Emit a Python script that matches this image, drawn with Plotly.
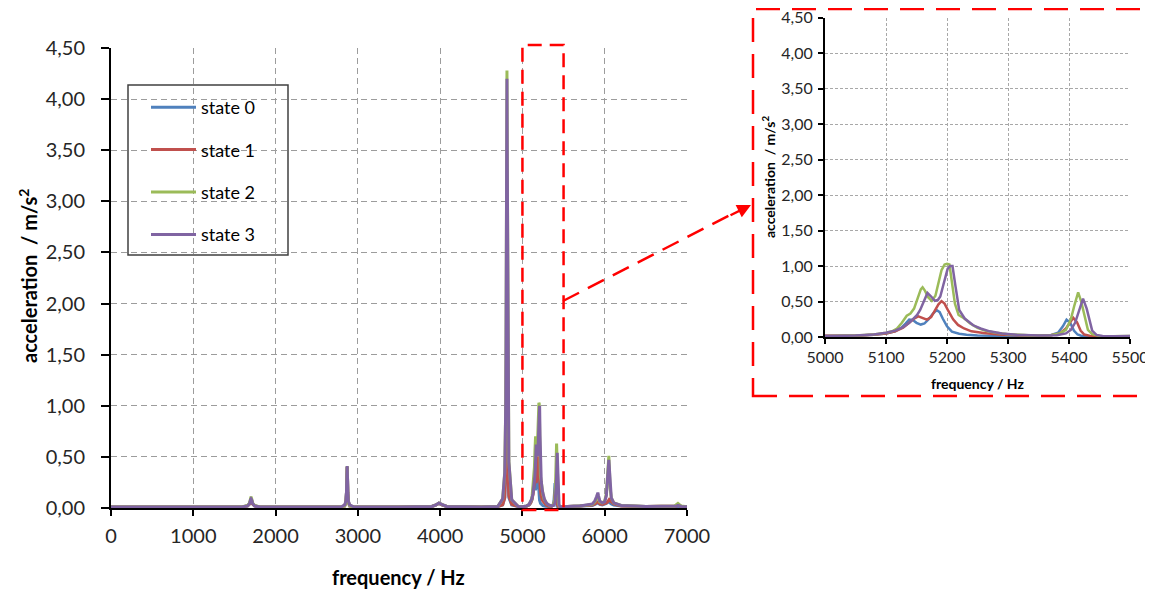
import plotly.graph_objects as go

# ---------------- data ----------------
state_names = ["state 0", "state 1", "state 2", "state 3"]
state_colors = ["#4F81BD", "#C0504D", "#9BBB59", "#8064A2"]

# region below 5000 Hz (shared frequency grid)
freq_a = [0, 1000, 1600, 1660, 1685, 1695, 1702, 1710, 1720, 1745, 1800, 2500, 2800,
          2840, 2855, 2862, 2866, 2870, 2874, 2878, 2885, 2900, 2950, 3500, 3900, 3950,
          3985, 4020, 4080, 4500, 4700, 4760, 4785, 4798, 4804, 4808, 4810, 4812, 4816,
          4822, 4835, 4870, 4950]
s0_a = [0.01, 0.01, 0.012, 0.02, 0.04, 0.07, 0.08, 0.07, 0.04, 0.02, 0.012, 0.01, 0.012,
        0.02, 0.06, 0.15, 0.3, 0.40, 0.3, 0.15, 0.06, 0.02, 0.012, 0.01, 0.015, 0.03,
        0.045, 0.03, 0.015, 0.01, 0.015, 0.03, 0.1, 0.4, 1.0, 1.7, 1.9, 1.6, 0.9,
        0.35, 0.1, 0.03, 0.015]
s1_a = [0.01, 0.01, 0.012, 0.02, 0.04, 0.07, 0.085, 0.07, 0.04, 0.02, 0.012, 0.01, 0.012,
        0.02, 0.06, 0.15, 0.3, 0.40, 0.3, 0.15, 0.06, 0.02, 0.012, 0.01, 0.015, 0.03,
        0.045, 0.03, 0.015, 0.01, 0.015, 0.03, 0.1, 0.45, 1.1, 1.8, 2.07, 1.8, 1.0,
        0.4, 0.12, 0.035, 0.015]
s2_a = [0.01, 0.01, 0.012, 0.025, 0.05, 0.09, 0.11, 0.09, 0.05, 0.025, 0.012, 0.01, 0.012,
        0.02, 0.06, 0.15, 0.3, 0.41, 0.3, 0.15, 0.06, 0.02, 0.012, 0.01, 0.015, 0.03,
        0.05, 0.035, 0.015, 0.01, 0.015, 0.09, 0.35, 1.06, 2.15, 3.42, 4.02, 4.28, 3.42,
        1.67, 0.46, 0.08, 0.015]
s3_a = [0.01, 0.01, 0.012, 0.02, 0.045, 0.08, 0.09, 0.08, 0.045, 0.02, 0.012, 0.01, 0.012,
        0.03, 0.07, 0.16, 0.3, 0.41, 0.3, 0.16, 0.07, 0.03, 0.012, 0.01, 0.015, 0.03,
        0.05, 0.035, 0.015, 0.01, 0.015, 0.09, 0.34, 1.04, 2.1, 3.36, 3.95, 4.2, 3.36,
        1.64, 0.45, 0.08, 0.015]

# region 5000-5500 Hz (zoomed in the inset)
s0_fb = [5000, 5050, 5080, 5100, 5115, 5125, 5132, 5138, 5144, 5150, 5157, 5163, 5170,
         5177, 5183, 5188, 5193, 5200, 5208, 5220, 5232, 5250, 5280, 5320, 5350, 5370,
         5382, 5390, 5396, 5402, 5408, 5414, 5420, 5430, 5460, 5500]
s0_b = [0.012, 0.018, 0.03, 0.05, 0.08, 0.13, 0.19, 0.245, 0.24, 0.2, 0.175, 0.19, 0.25,
        0.33, 0.38, 0.35, 0.26, 0.15, 0.075, 0.045, 0.032, 0.022, 0.016, 0.012, 0.014, 0.025,
        0.06, 0.15, 0.245, 0.2, 0.09, 0.035, 0.018, 0.012, 0.01, 0.01]
s1_fb = [5000, 5050, 5080, 5100, 5115, 5128, 5138, 5146, 5153, 5160, 5167, 5174, 5180,
         5186, 5191, 5196, 5202, 5210, 5218, 5228, 5240, 5260, 5290, 5320, 5350, 5370,
         5385, 5395, 5401, 5407, 5413, 5419, 5425, 5435, 5460, 5500]
s1_b = [0.012, 0.018, 0.03, 0.05, 0.08, 0.13, 0.2, 0.26, 0.29, 0.27, 0.245, 0.28, 0.37,
        0.46, 0.505, 0.47, 0.37, 0.25, 0.17, 0.12, 0.08, 0.055, 0.03, 0.018, 0.016, 0.025,
        0.05, 0.12, 0.2, 0.27, 0.21, 0.09, 0.035, 0.015, 0.01, 0.01]
s2_fb = [5000, 5050, 5080, 5100, 5110, 5118, 5126, 5134, 5140, 5146, 5152, 5157, 5160,
         5164, 5169, 5175, 5181, 5186, 5191, 5196, 5200, 5204, 5208, 5213, 5219, 5227,
         5238, 5250, 5262, 5280, 5300, 5340, 5370, 5385, 5395, 5403, 5409, 5415, 5420,
         5425, 5431, 5438, 5450, 5470, 5500]
s2_b = [0.012, 0.02, 0.035, 0.06, 0.08, 0.12, 0.2, 0.3, 0.33, 0.4, 0.56, 0.67, 0.70,
        0.65, 0.56, 0.51, 0.58, 0.76, 0.94, 1.02, 1.03, 1.02, 0.8, 0.47, 0.31, 0.27,
        0.19, 0.13, 0.09, 0.06, 0.04, 0.02, 0.025, 0.05, 0.1, 0.25, 0.45, 0.63, 0.5,
        0.3, 0.1, 0.04, 0.015, 0.01, 0.01]
s3_fb = [5000, 5050, 5080, 5100, 5115, 5128, 5138, 5145, 5151, 5156, 5162, 5168, 5174,
         5180, 5185, 5189, 5193, 5197, 5201, 5205, 5209, 5214, 5220, 5229, 5243, 5255,
         5270, 5290, 5314, 5350, 5380, 5395, 5403, 5410, 5416, 5423, 5429, 5433, 5438,
         5445, 5455, 5475, 5500]
s3_b = [0.012, 0.02, 0.035, 0.06, 0.09, 0.14, 0.2, 0.26, 0.31, 0.38, 0.5, 0.62, 0.57,
        0.51, 0.52, 0.57, 0.7, 0.85, 0.96, 1.0, 1.0, 0.71, 0.38, 0.26, 0.165, 0.12,
        0.08, 0.05, 0.033, 0.02, 0.025, 0.05, 0.1, 0.2, 0.35, 0.54, 0.4, 0.25, 0.09,
        0.03, 0.015, 0.01, 0.01]

# region above 5500 Hz (shared frequency grid)
freq_c = [5550, 5700, 5850, 5880, 5900, 5910, 5917, 5925, 5940, 5970, 6000, 6020, 6035,
          6044, 6050, 6056, 6065, 6080, 6110, 6200, 6500, 6850, 6875, 6890, 6905, 6930, 7000]
s0_c = [0.015, 0.02, 0.025, 0.035, 0.045, 0.05, 0.05, 0.045, 0.035, 0.03, 0.035, 0.045, 0.055,
        0.06, 0.065, 0.06, 0.05, 0.04, 0.03, 0.02, 0.015, 0.015, 0.018, 0.02, 0.018, 0.015, 0.012]
s1_c = [0.015, 0.02, 0.03, 0.04, 0.05, 0.06, 0.06, 0.055, 0.04, 0.035, 0.04, 0.05, 0.06,
        0.07, 0.08, 0.085, 0.08, 0.06, 0.04, 0.02, 0.015, 0.015, 0.02, 0.025, 0.02, 0.015, 0.012]
s2_c = [0.015, 0.02, 0.035, 0.06, 0.09, 0.11, 0.12, 0.1, 0.06, 0.05, 0.07, 0.14, 0.3,
        0.46, 0.51, 0.4, 0.2, 0.1, 0.05, 0.025, 0.015, 0.02, 0.035, 0.045, 0.035, 0.02, 0.012]
s3_c = [0.015, 0.02, 0.04, 0.07, 0.11, 0.14, 0.15, 0.12, 0.07, 0.05, 0.06, 0.12, 0.25,
        0.4, 0.47, 0.38, 0.2, 0.1, 0.05, 0.025, 0.015, 0.015, 0.02, 0.025, 0.02, 0.015, 0.012]

main_x_ticks = [0, 1000, 2000, 3000, 4000, 5000, 6000, 7000]
inset_x_ticks = [5000, 5100, 5200, 5300, 5400, 5500]
y_ticks = [0, 0.5, 1.0, 1.5, 2.0, 2.5, 3.0, 3.5, 4.0, 4.5]

series = [
    (freq_a + s0_fb + freq_c, s0_a + s0_b + s0_c),
    (freq_a + s1_fb + freq_c, s1_a + s1_b + s1_c),
    (freq_a + s2_fb + freq_c, s2_a + s2_b + s2_c),
    (freq_a + s3_fb + freq_c, s3_a + s3_b + s3_c),
]
for f, v in series:
    assert len(f) == len(v), (len(f), len(v))

# ---------------- layout helpers ----------------
# the page body adds an 8 px margin, so the figure is drawn 8 px in from the corner
OX, OY = 8, 8
W, H = 1153 - OX, 590 - OY
def px(x):
    return (x - OX) / W
def py(y):
    return 1 - (y - OY) / H

FONT = "Lato, 'Open Sans', sans-serif"
TICKCOL = "#262626"

fig = go.Figure()
for i, (f, v) in enumerate(series):
    fig.add_trace(go.Scatter(x=f, y=v, mode="lines", name=state_names[i],
                             legendgroup=f"g{i}",
                             line=dict(color=state_colors[i], width=3),
                             xaxis="x", yaxis="y"))
for i, (f, v) in enumerate(series):
    fig.add_trace(go.Scatter(x=f, y=v, mode="lines", name=state_names[i],
                             showlegend=False, legendgroup=f"g{i}",
                             line=dict(color=state_colors[i], width=2.5),
                             xaxis="x2", yaxis="y2"))

main_axis_common = dict(showline=True, linecolor="black", linewidth=2,
                        ticks="outside", tickcolor="black", tickwidth=2,
                        showgrid=True, gridcolor="#9c9c9c", gridwidth=1.3,
                        griddash="6px,4px", zeroline=False, automargin=False,
                        ticklabeloverflow="allow",
                        tickfont=dict(family=FONT, size=20, color=TICKCOL))
inset_axis_common = dict(showline=True, linecolor="black", linewidth=2,
                         ticks="outside", tickcolor="black", tickwidth=1.5,
                         showgrid=True, gridcolor="#a8a8a8", gridwidth=1,
                         griddash="3px,2px", zeroline=False, automargin=False,
                         ticklabeloverflow="allow",
                         tickfont=dict(family=FONT, size=16, color=TICKCOL))

fig.update_layout(
    template="none",
    width=W, height=H, autosize=False,
    margin=dict(l=0, r=0, t=0, b=0, pad=0, autoexpand=False),
    paper_bgcolor="white", plot_bgcolor="white",
    separators=",.",
    font=dict(family=FONT, color="black"),
    xaxis=dict(domain=[px(111), px(687)], range=[0, 7000], tickvals=main_x_ticks,
               tickformat="d", ticklen=6, anchor="y", ticklabelstandoff=3,
               **main_axis_common),
    yaxis=dict(domain=[py(508), py(48)], range=[0, 4.5], tickvals=y_ticks,
               tickformat=".2f", ticklen=8, anchor="x", ticklabelstandoff=12,
               **main_axis_common),
    xaxis2=dict(domain=[px(825), px(1130)], range=[5000, 5500], tickvals=inset_x_ticks,
                tickformat="d", ticklen=5, anchor="y2", ticklabelstandoff=0,
                **inset_axis_common),
    yaxis2=dict(domain=[py(337), py(17.5)], range=[0, 4.5], tickvals=y_ticks,
                tickformat=".2f", ticklen=5, anchor="x2", ticklabelstandoff=2,
                **inset_axis_common),
    legend=dict(x=px(146), y=py(89), xanchor="left", yanchor="top",
                bgcolor="rgba(0,0,0,0)", borderwidth=0, itemwidth=45,
                font=dict(family=FONT, size=18, color="black"),
                tracegroupgap=16, itemclick=False, itemdoubleclick=False),
    showlegend=True,
)

shapes = [
    # legend frame
    dict(type="rect", xref="paper", yref="paper", x0=px(128), x1=px(288),
         y0=py(255), y1=py(85), line=dict(color="#404040", width=1.5),
         fillcolor="rgba(0,0,0,0)", layer="above"),
    # red dashed box over the zoomed band in the main chart
    dict(type="rect", xref="x", yref="paper", x0=5000, x1=5500,
         y0=py(510), y1=py(45), line=dict(color="#FF0000", width=2.5, dash="14px,8px"),
         fillcolor="rgba(0,0,0,0)", layer="above"),
    # red dashed frame around the inset
    dict(type="rect", xref="paper", yref="paper", x0=px(753), x1=px(1149),
         y0=py(396), y1=py(9), line=dict(color="#FF0000", width=2.5, dash="24px,12px"),
         fillcolor="rgba(0,0,0,0)", layer="above"),
    # dashed connector
    dict(type="line", xref="paper", yref="paper", x0=px(563), y0=py(301),
         x1=px(732), y1=py(214), line=dict(color="#FF0000", width=2.5, dash="18px,10px"),
         layer="above"),
]
fig.update_layout(shapes=shapes)

C = dict(xanchor="center", yanchor="middle", showarrow=False)
annotations = [
    dict(xref="paper", yref="paper", x=px(751), y=py(205), ax=-22, ay=11,
         showarrow=True, arrowhead=2, arrowsize=1.1, arrowwidth=2.5,
         arrowcolor="#FF0000", text=""),
    dict(xref="paper", yref="paper", x=px(398), y=py(577), text="<b>frequency / Hz</b>",
         font=dict(family=FONT, size=20, color="black"), **C),
    dict(xref="paper", yref="paper", x=px(28), y=py(276),
         text="<b>acceleration  / m/s<sup>2</sup></b>", textangle=-90,
         font=dict(family=FONT, size=20, color="black"), **C),
    dict(xref="paper", yref="paper", x=px(977), y=py(383), text="<b>frequency / Hz</b>",
         font=dict(family=FONT, size=14, color="black"), **C),
    dict(xref="paper", yref="paper", x=px(768), y=py(177),
         text="<b>acceleration  / m/s<sup>2</sup></b>", textangle=-90,
         font=dict(family=FONT, size=14, color="black"), **C),
]
fig.update_layout(annotations=annotations)

fig.write_html("out.html")
